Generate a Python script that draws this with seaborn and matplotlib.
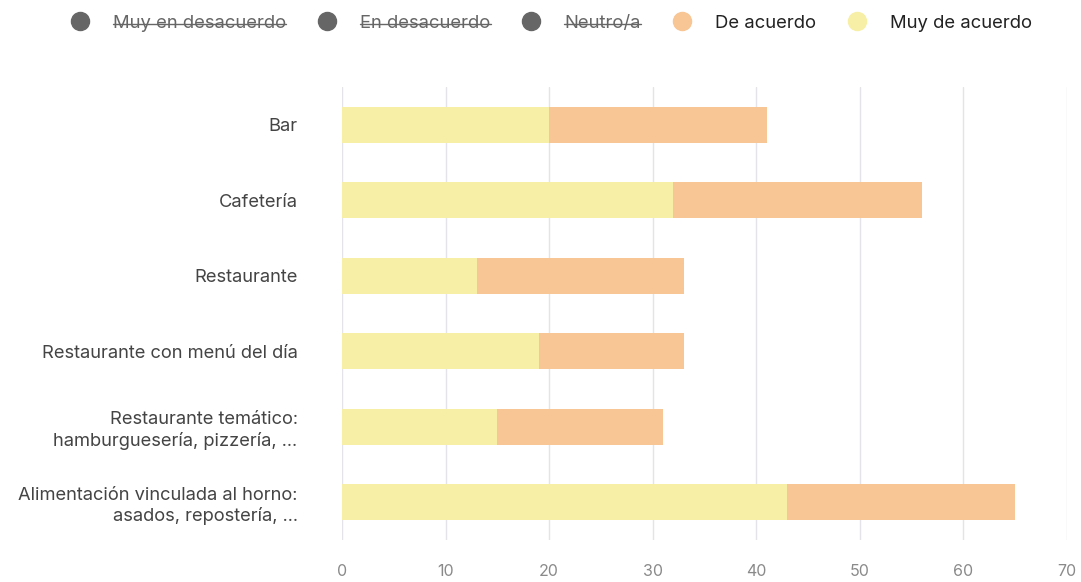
import matplotlib
matplotlib.use("Agg")
import matplotlib.pyplot as plt
from matplotlib.lines import Line2D
import seaborn as sns
import pandas as pd

categories = [
    "Bar",
    "Cafetería",
    "Restaurante",
    "Restaurante con menú del día",
    "Restaurante temático:\nhamburguesería, pizzería, ...",
    "Alimentación vinculada al horno:\nasados, repostería, ...",
]
muy_de_acuerdo = [20, 32, 13, 19, 15, 43]
de_acuerdo = [21, 24, 20, 14, 16, 22]

legend_labels = ["Muy en desacuerdo", "En desacuerdo", "Neutro/a", "De acuerdo", "Muy de acuerdo"]
hidden = [True, True, True, False, False]

YELLOW = "#F7EFA5"
ORANGE = "#F8C594"
GREY = "#666666"

df = pd.DataFrame({"cat": categories, "muy": muy_de_acuerdo, "de": de_acuerdo})
df["total"] = df["muy"] + df["de"]

sns.set_theme(style="white")
plt.rcParams["font.family"] = ["Inter", "DejaVu Sans"]

fig = plt.figure(figsize=(10.81, 5.82), dpi=100)
ax = fig.add_axes([0.3164, 0.072, 0.987 - 0.3164, 0.7785])

sns.barplot(data=df, y="cat", x="total", color=ORANGE, orient="h", width=0.48,
            saturation=1, errorbar=None, linewidth=0, ax=ax, zorder=2)
sns.barplot(data=df, y="cat", x="muy", color=YELLOW, orient="h", width=0.48,
            saturation=1, errorbar=None, linewidth=0, ax=ax, zorder=3)

ax.set_xlim(0, 70)
ax.set_ylim(5.5, -0.5)
ax.set_xticks(range(0, 71, 10))
ax.set_xlabel("")
ax.set_ylabel("")
ax.grid(axis="x", color="#e4e4e8", linewidth=1, zorder=0)
ax.set_axisbelow(True)
for s in ax.spines.values():
    s.set_visible(False)
ax.tick_params(axis="x", colors="#8a8a8a", labelsize=11.5, length=0, pad=17)
ax.tick_params(axis="y", colors="#444444", labelsize=13.2, length=0, pad=32)
for t in ax.get_yticklabels():
    t.set_horizontalalignment("right")
    t.set_multialignment("right")
    t.set_linespacing(1.25)

colors = [GREY, GREY, GREY, ORANGE, YELLOW]
handles = [Line2D([], [], marker="o", linestyle="", markersize=13,
                  markerfacecolor=c, markeredgecolor=c) for c in colors]
leg = fig.legend(handles, legend_labels, loc="upper center", bbox_to_anchor=(0.51, 1.003),
                 ncol=5, frameon=False, fontsize=13.3, handletextpad=1.3,
                 columnspacing=1.7, handlelength=1.0)
for txt, h in zip(leg.get_texts(), hidden):
    txt.set_color(GREY if h else "#222222")

fig.canvas.draw()
renderer = fig.canvas.get_renderer()
inv = fig.transFigure.inverted()
for txt, h in zip(leg.get_texts(), hidden):
    if not h:
        continue
    bb = txt.get_window_extent(renderer)
    (x0, y0), (x1, y1) = inv.transform([[bb.x0, bb.y0], [bb.x1, bb.y1]])
    ym = y0 + (y1 - y0) * 0.48
    fig.add_artist(Line2D([x0, x1], [ym, ym], color=GREY, linewidth=1,
                          transform=fig.transFigure))

fig.savefig("out.png", dpi=100)
